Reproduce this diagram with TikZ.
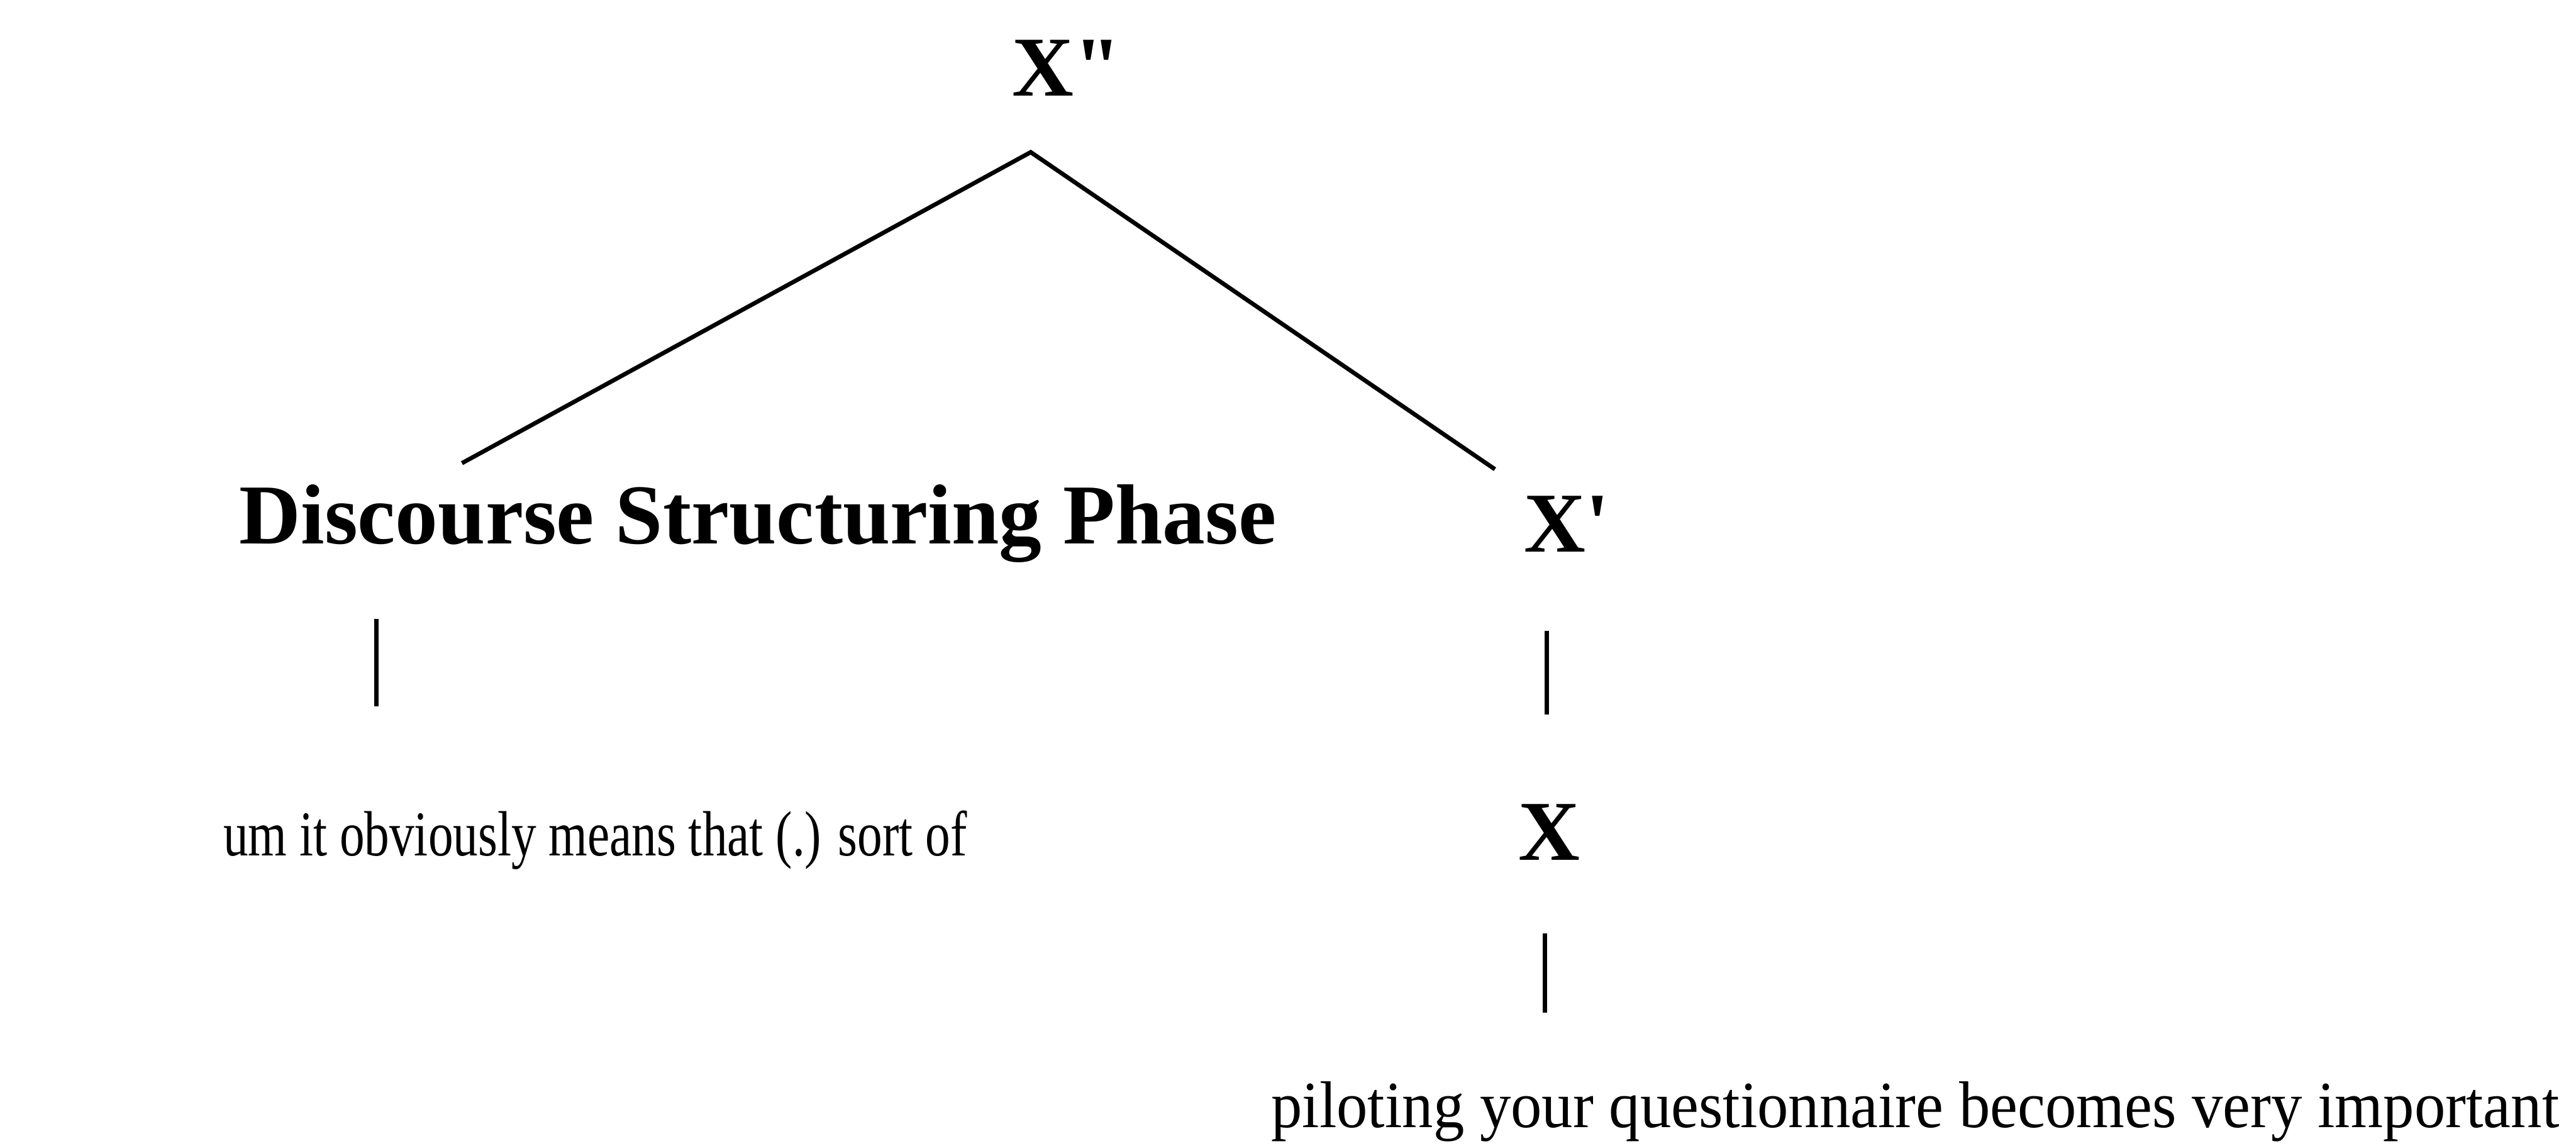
\documentclass[tikz,border=0pt]{standalone}
\usepackage{fontspec}
\newfontfamily\albero{Liberation Serif}
\newfontfamily\frasea{Liberation Serif}[FakeStretch=0.78]
\newfontfamily\fraseb{Liberation Serif}[FakeStretch=0.94]
\begin{document}
\begin{tikzpicture}[x=7.79pt,y=-7.79pt,font=\albero\fontsize{10}{12}\selectfont,
    etich/.style={font=\albero\bfseries\fontsize{12}{14}\selectfont,inner sep=0pt,anchor=base west},
    testo/.style={inner sep=0pt,anchor=base west},
    ramo/.style={line width=0.6pt}]
    \useasboundingbox (0,0) rectangle (46.56,20.71);
    \node[etich] (xbb) at (18.27,1.73) {X"}; %radice
    \node[etich] (dsp) at (4.30,9.83) {Discourse Structuring Phase};
    \node[etich] (xb) at (27.52,9.97) {X'};
    \node[etich] (x) at (27.42,15.55) {X};
    \node[testo,font=\frasea\fontsize{9}{11}\selectfont] (um) at (4.01,15.46) {um it obviously means that (.) sort of};
    \node[testo,font=\fraseb\fontsize{9.3}{11}\selectfont] (pil) at (22.95,20.37) {piloting your questionnaire becomes very important};
    \coordinate (cima) at (18.63,2.75);
    \coordinate (sx) at (8.35,8.37);
    \coordinate (dx) at (27.02,8.48);
    \draw[ramo] (sx) -- (cima) -- (dx); %rami di X"
    \coordinate (a1) at (6.80,11.18);
    \coordinate (a2) at (6.80,12.76);
    \draw[ramo] (a1) -- (a2); %sotto la fase
    \coordinate (b1) at (27.96,11.40);
    \coordinate (b2) at (27.96,12.91);
    \draw[ramo] (b1) -- (b2); %da X' a X
    \coordinate (c1) at (27.92,16.87);
    \coordinate (c2) at (27.92,18.30);
    \draw[ramo] (c1) -- (c2); %da X al testo
\end{tikzpicture}
\end{document}
